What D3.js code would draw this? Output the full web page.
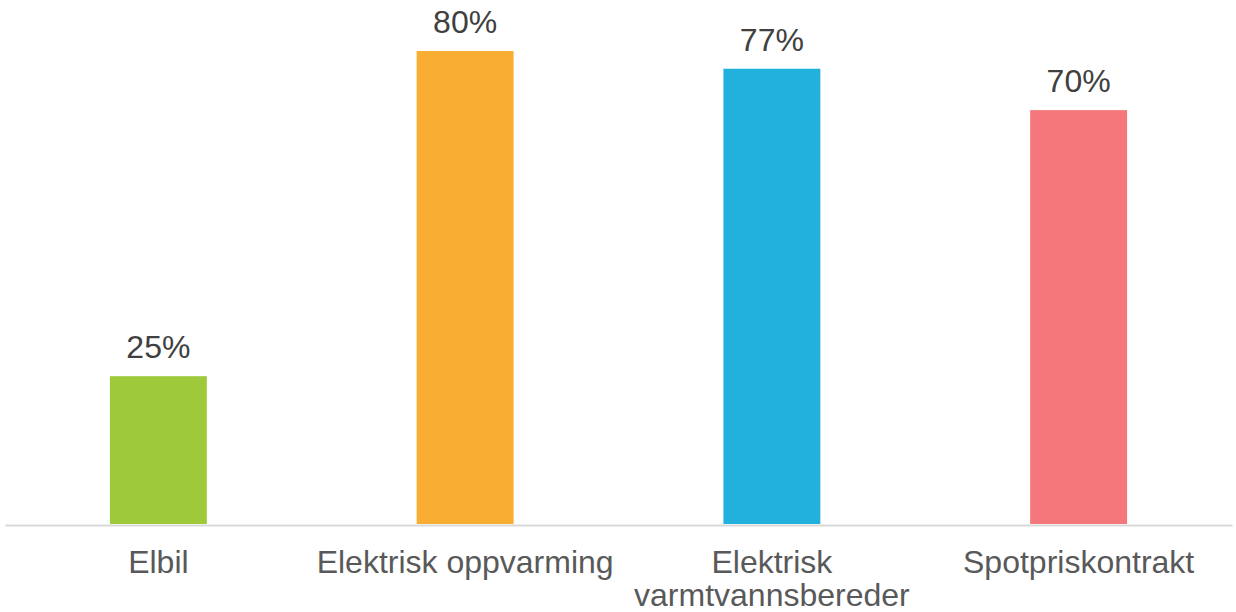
<!DOCTYPE html>
<html>
<head>
<meta charset="utf-8">
<script src="https://cdn.jsdelivr.net/npm/d3@7"></script>
<style>
  html, body { margin: 0; padding: 0; background: #fff; }
  svg { display: block; font-family: "Liberation Sans", Arial, sans-serif; }
</style>
</head>
<body>
<svg id="chart" width="1236" height="612"></svg>
<script>
// Share of respondents per category
const categories = ["Elbil", "Elektrisk oppvarming", "Elektrisk varmtvannsbereder", "Spotpriskontrakt"];
const categoryLines = [["Elbil"], ["Elektrisk oppvarming"], ["Elektrisk", "varmtvannsbereder"], ["Spotpriskontrakt"]];
const values = [0.25, 0.80, 0.77, 0.70];
const colors = ["#9dc93b", "#f9ae33", "#21b1dc", "#f4777b"];

const svg = d3.select("#chart");
const baseY = 524;

const x = d3.scaleBand()
  .domain(categories)
  .range([5, 1232])
  .paddingInner(0.684)
  .paddingOuter(0.342);

const y = d3.scaleLinear()
  .domain([0, 0.8])
  .range([baseY, 51]);

const fmt = d3.format(".0%");

// bars
svg.append("g").selectAll("rect")
  .data(values)
  .join("rect")
  .attr("x", (d, i) => x(categories[i]))
  .attr("y", d => y(d))
  .attr("width", x.bandwidth())
  .attr("height", d => y(0) - y(d))
  .attr("fill", (d, i) => colors[i]);

// value labels
svg.append("g").selectAll("text")
  .data(values)
  .join("text")
  .attr("x", (d, i) => x(categories[i]) + x.bandwidth() / 2)
  .attr("y", d => y(d) - 18)
  .attr("text-anchor", "middle")
  .attr("font-size", 32)
  .attr("fill", "#404040")
  .text(d => fmt(d));

// category axis
const axis = svg.append("g")
  .attr("transform", `translate(0,${baseY + 1})`)
  .call(d3.axisBottom(x).tickSize(0).tickFormat(""));
axis.select(".domain").attr("stroke", "#d9d9d9").attr("stroke-width", 2);

const labels = svg.append("g").selectAll("text")
  .data(categories)
  .join("text")
  .attr("text-anchor", "middle")
  .attr("font-size", 32)
  .attr("fill", "#595959")
  .attr("x", d => x(d) + x.bandwidth() / 2)
  .attr("y", 573);

labels.each(function(d, i) {
  const t = d3.select(this);
  categoryLines[i].forEach((line, j) => {
    t.append("tspan")
      .attr("x", x(d) + x.bandwidth() / 2)
      .attr("dy", j === 0 ? 0 : 33)
      .text(line);
  });
});
</script>
</body>
</html>
